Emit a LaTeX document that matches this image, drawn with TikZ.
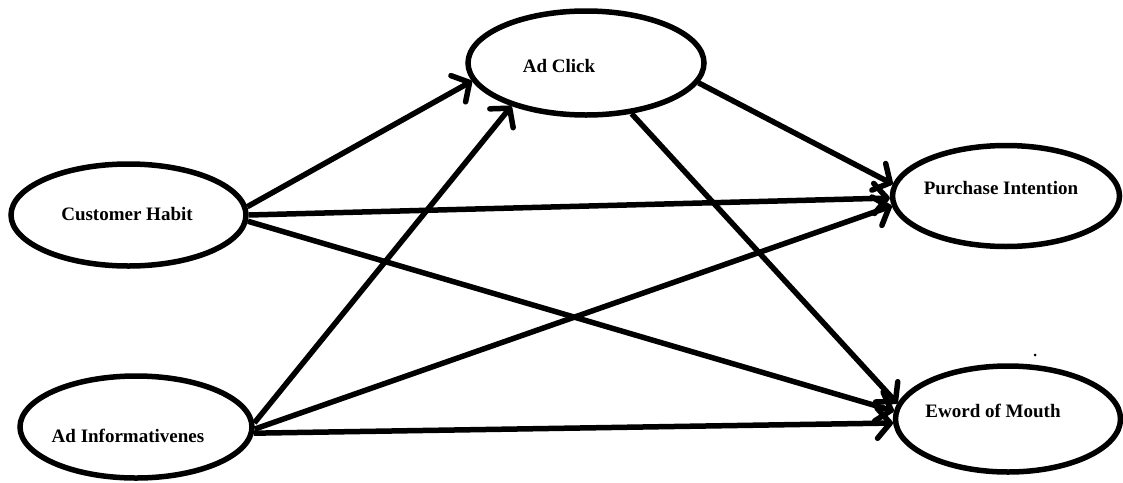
\documentclass[tikz,border=0pt]{standalone}
\usepackage{fontspec}
\setmainfont{Liberation Serif}
\usetikzlibrary{arrows.meta,shapes.geometric}
\begin{document}
\begin{tikzpicture}[x=1pt,y=-1pt,
  ell/.style={draw=black,line width=5.5pt,ellipse,inner sep=0pt,fill=white},
  lbl/.style={anchor=base,inner sep=0pt,font=\fontsize{19}{22}\selectfont\bfseries},
  arr/.style={line width=5.5pt,-{Straight Barb[length=13pt,width=30pt,round]}}]
\useasboundingbox (0,0) rectangle (1123,482);
\fill[white] (0,0) rectangle (1123,482);
% ellipses
\node[ell,minimum width=235pt,minimum height=102pt] (ch) at (128.5,215) {};
\node[ell,minimum width=236pt,minimum height=104pt] (ac) at (586,63) {};
\node[ell,minimum width=227pt,minimum height=101pt] (pi) at (1006,196) {};
\node[ell,minimum width=232pt,minimum height=102pt] (ai) at (136,427) {};
\node[ell,minimum width=225pt,minimum height=106pt] (em) at (1008,419) {};
% labels
\node[lbl] (chT) at (127,220) {Customer Habit};
\node[lbl] (acT) at (559,72) {Ad Click};
\node[lbl] (piT) at (1001,194) {Purchase Intention};
\node[lbl] (aiT) at (128,442) {Ad Informativenes};
\node[lbl] (emT) at (993,417) {Eword of Mouth};
% connectors
\draw[arr] (ch.4.8) -- (ac.189.5);
\draw[arr] (ch.0) -- (pi.181.5);
\draw[arr] (ch.-3.4) -- (em.176);
\draw[arr] (ai.2) -- (ac.210);
\draw[arr] (ai.-1.5) -- (pi.185.4);
\draw[arr] (ai.-3) -- (em.182);
\draw[arr] (ac.-10.1) -- (pi.174);
\draw[arr] (ac.-48) -- (em.172);
% stray dot
\fill (1035,355) circle (1.5pt);
\end{tikzpicture}
\end{document}
